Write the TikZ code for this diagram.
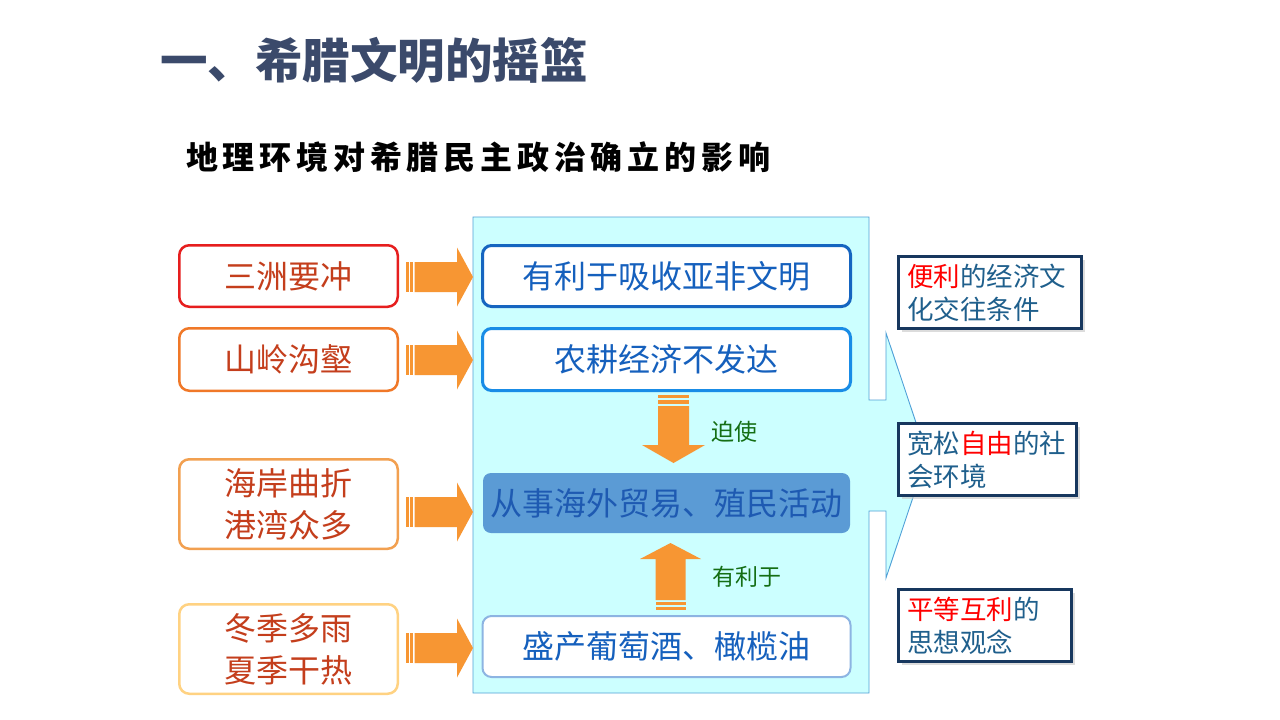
\documentclass[tikz,border=0pt]{standalone}
\usepackage{fontspec}
\setmainfont{Noto Sans CJK SC}
\newfontfamily\cjk{Noto Sans CJK SC}
\usetikzlibrary{shadows}
\definecolor{titlec}{RGB}{59,74,107}
\definecolor{cyanfill}{RGB}{204,255,255}
\definecolor{cyanline}{RGB}{80,160,215}
\definecolor{arrowc}{RGB}{247,150,51}
\definecolor{boxA}{RGB}{21,101,192}
\definecolor{boxB}{RGB}{25,140,230}
\definecolor{boxD}{RGB}{141,180,226}
\definecolor{boxC}{RGB}{91,155,213}
\definecolor{boxtext}{RGB}{21,96,189}
\definecolor{boxCtext}{RGB}{30,90,178}
\definecolor{lefttext}{RGB}{196,62,28}
\definecolor{lb1}{RGB}{230,30,30}
\definecolor{lb2}{RGB}{240,120,40}
\definecolor{lb3}{RGB}{242,160,80}
\definecolor{lb4}{RGB}{255,210,130}
\definecolor{greenc}{RGB}{20,110,20}
\definecolor{navy}{RGB}{23,55,94}
\definecolor{rtext}{RGB}{31,95,140}
\definecolor{redc}{RGB}{255,0,0}
\begin{document}
\begin{tikzpicture}[x=1pt,y=-1pt,
  lbox/.style={rounded corners=10pt, fill=white, line width=2.5pt, minimum width=218.5pt,
     inner sep=0pt, align=center, text=lefttext, font=\cjk\fontsize{32}{42}\selectfont},
  mbox/.style={rounded corners=9pt, fill=white, minimum width=368pt, minimum height=61pt,
     inner sep=0pt, text=boxtext, font=\cjk\fontsize{32}{36}\selectfont},
  rbox/.style={draw=navy, line width=3pt, fill=white, inner xsep=8.5pt, inner ysep=0pt,
     minimum height=72pt, align=left, text=rtext, font=\cjk\fontsize{26.5}{33}\selectfont,
     drop shadow={shadow xshift=3pt, shadow yshift=-3pt, fill=gray!45, opacity=0.6}},
  glab/.style={text=greenc, inner sep=0pt, font=\cjk\fontsize{23}{26}\selectfont},
  rarrow/.pic={
    \fill[arrowc] (0,-15) rectangle (2.5,15);
    \fill[arrowc] (4,-15) rectangle (7,15);
    \fill[arrowc] (8.5,-15) -- (51,-15) -- (51,-29.5) -- (67,0) -- (51,29.5) -- (51,15) -- (8.5,15) -- cycle;
  }]
\useasboundingbox (0,0) rectangle (1280,720);
\fill[white] (0,0) rectangle (1280,720);

% titles
\node[anchor=west, inner sep=0pt, text=titlec, font=\cjk\bfseries\fontsize{47.5}{52}\selectfont] (title) at (160,60) {一、希腊文明的摇篮};
\node[anchor=west, inner sep=0pt, text=black, font=\cjk\bfseries\fontsize{32}{36}\selectfont\addfontfeature{LetterSpace=15}] (sub) at (186,157) {地理环境对希腊民主政治确立的影响};

% callout background
\draw[fill=cyanfill, draw=cyanline, line width=0.9pt]
  (473,217) -- (869,217) -- (869,400) -- (886,400) -- (886,333) -- (927,455.5)
  -- (886,578) -- (886,511) -- (869,511) -- (869,693) -- (473,693) -- cycle;

% left boxes
\node[lbox, draw=lb1, minimum height=61.5pt] (l1) at (288.5,276) {三洲要冲};
\node[lbox, draw=lb2, minimum height=62.5pt] (l2) at (288.5,359.5) {山岭沟壑};
\node[lbox, draw=lb3, minimum height=89.5pt] (l3) at (288.5,504) {海岸曲折\\港湾众多};
\node[lbox, draw=lb4, minimum height=89.5pt] (l4) at (288.5,649) {冬季多雨\\夏季干热};

% right striped arrows
\pic at (406,277) {rarrow};
\pic at (406,360) {rarrow};
\pic at (406,512) {rarrow};
\pic at (406,648) {rarrow};

% middle boxes
\node[mbox, draw=boxA, line width=3pt] (m1) at (666.5,276) {有利于吸收亚非文明};
\node[mbox, draw=boxB, line width=3pt, minimum height=62pt] (m2) at (666.5,359.5) {农耕经济不发达};
\node[mbox, fill=boxC, draw=none, rounded corners=8pt, minimum width=367pt, minimum height=60pt,
      text=boxCtext] (m3) at (666.5,503) {从事海外贸易、殖民活动};
\node[mbox, draw=boxD, line width=2pt] (m4) at (666.5,646.5) {盛产葡萄酒、橄榄油};

% down arrow
\fill[arrowc] (658,395) rectangle (689,398);
\fill[arrowc] (658,400) rectangle (689,404);
\fill[arrowc] (658,406) -- (689,406) -- (689,445) -- (705,445) -- (673.5,463) -- (642,445) -- (658,445) -- cycle;
% up arrow
\fill[arrowc] (655.5,607) rectangle (685.5,610);
\fill[arrowc] (655.5,602) rectangle (685.5,605);
\fill[arrowc] (655.5,600) -- (685.5,600) -- (685.5,559) -- (701,559) -- (670.5,543) -- (640,559) -- (655.5,559) -- cycle;

\node[glab] (g1) at (734,432) {迫使};
\node[glab] (g2) at (747,577) {有利于};

% right boxes
\node[rbox, text width=166pt] (r1) at (990,292.5) {\textcolor{redc}{便利}的经济文\\化交往条件};
\node[rbox, text width=161pt] (r2) at (987.5,459.5) {宽松\textcolor{redc}{自由}的社\\会环境};
\node[rbox, text width=156pt] (r3) at (985,625.5) {\textcolor{redc}{平等互利}的\\思想观念};
\end{tikzpicture}
\end{document}
